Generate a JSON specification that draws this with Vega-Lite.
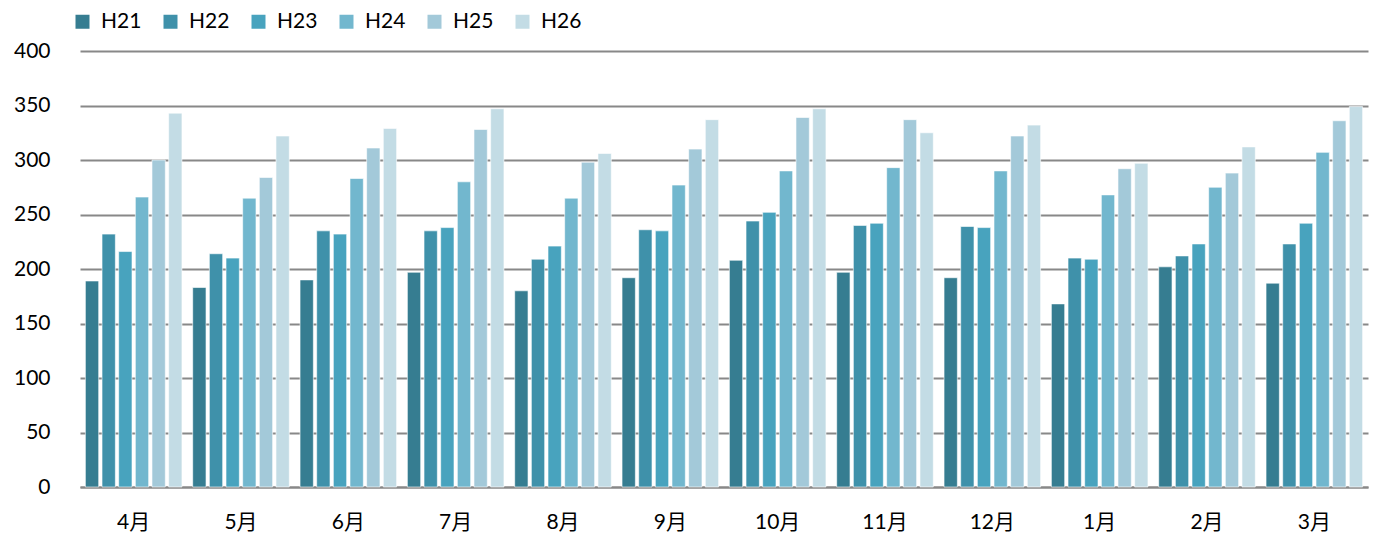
{
  "$schema": "https://vega.github.io/schema/vega-lite/v6.json",
  "width": 1288,
  "height": 436,
  "autosize": {"type": "none"},
  "padding": {"left": 80, "top": 51, "right": 10, "bottom": 48},
  "background": "white",
  "config": {
    "view": {"stroke": null},
    "font": "Lato"
  },
  "data": {
    "values": [
      {"month": "4月", "year": "H21", "v": 189}, {"month": "4月", "year": "H22", "v": 232}, {"month": "4月", "year": "H23", "v": 216}, {"month": "4月", "year": "H24", "v": 266}, {"month": "4月", "year": "H25", "v": 300}, {"month": "4月", "year": "H26", "v": 343},
      {"month": "5月", "year": "H21", "v": 183}, {"month": "5月", "year": "H22", "v": 214}, {"month": "5月", "year": "H23", "v": 210}, {"month": "5月", "year": "H24", "v": 265}, {"month": "5月", "year": "H25", "v": 284}, {"month": "5月", "year": "H26", "v": 322},
      {"month": "6月", "year": "H21", "v": 190}, {"month": "6月", "year": "H22", "v": 235}, {"month": "6月", "year": "H23", "v": 232}, {"month": "6月", "year": "H24", "v": 283}, {"month": "6月", "year": "H25", "v": 311}, {"month": "6月", "year": "H26", "v": 329},
      {"month": "7月", "year": "H21", "v": 197}, {"month": "7月", "year": "H22", "v": 235}, {"month": "7月", "year": "H23", "v": 238}, {"month": "7月", "year": "H24", "v": 280}, {"month": "7月", "year": "H25", "v": 328}, {"month": "7月", "year": "H26", "v": 347},
      {"month": "8月", "year": "H21", "v": 180}, {"month": "8月", "year": "H22", "v": 209}, {"month": "8月", "year": "H23", "v": 221}, {"month": "8月", "year": "H24", "v": 265}, {"month": "8月", "year": "H25", "v": 298}, {"month": "8月", "year": "H26", "v": 306},
      {"month": "9月", "year": "H21", "v": 192}, {"month": "9月", "year": "H22", "v": 236}, {"month": "9月", "year": "H23", "v": 235}, {"month": "9月", "year": "H24", "v": 277}, {"month": "9月", "year": "H25", "v": 310}, {"month": "9月", "year": "H26", "v": 337},
      {"month": "10月", "year": "H21", "v": 208}, {"month": "10月", "year": "H22", "v": 244}, {"month": "10月", "year": "H23", "v": 252}, {"month": "10月", "year": "H24", "v": 290}, {"month": "10月", "year": "H25", "v": 339}, {"month": "10月", "year": "H26", "v": 347},
      {"month": "11月", "year": "H21", "v": 197}, {"month": "11月", "year": "H22", "v": 240}, {"month": "11月", "year": "H23", "v": 242}, {"month": "11月", "year": "H24", "v": 293}, {"month": "11月", "year": "H25", "v": 337}, {"month": "11月", "year": "H26", "v": 325},
      {"month": "12月", "year": "H21", "v": 192}, {"month": "12月", "year": "H22", "v": 239}, {"month": "12月", "year": "H23", "v": 238}, {"month": "12月", "year": "H24", "v": 290}, {"month": "12月", "year": "H25", "v": 322}, {"month": "12月", "year": "H26", "v": 332},
      {"month": "1月", "year": "H21", "v": 168}, {"month": "1月", "year": "H22", "v": 210}, {"month": "1月", "year": "H23", "v": 209}, {"month": "1月", "year": "H24", "v": 268}, {"month": "1月", "year": "H25", "v": 292}, {"month": "1月", "year": "H26", "v": 297},
      {"month": "2月", "year": "H21", "v": 202}, {"month": "2月", "year": "H22", "v": 212}, {"month": "2月", "year": "H23", "v": 223}, {"month": "2月", "year": "H24", "v": 275}, {"month": "2月", "year": "H25", "v": 288}, {"month": "2月", "year": "H26", "v": 312},
      {"month": "3月", "year": "H21", "v": 187}, {"month": "3月", "year": "H22", "v": 223}, {"month": "3月", "year": "H23", "v": 242}, {"month": "3月", "year": "H24", "v": 307}, {"month": "3月", "year": "H25", "v": 336}, {"month": "3月", "year": "H26", "v": 349}
    ]
  },
  "mark": {"type": "bar", "stroke": "white", "strokeWidth": 1, "strokeOpacity": 0.6},
  "encoding": {
    "x": {
      "field": "month", "type": "nominal", "sort": null,
      "scale": {"paddingInner": 0.1, "paddingOuter": 0.05},
      "axis": {
        "title": null, "labelAngle": 0, "ticks": false, "domain": true,
        "domainColor": "#888888", "domainWidth": 2,
        "labelFont": "Lato, 'Noto Sans CJK JP'", "labelFontSize": 21, "labelColor": "#000000",
        "labelPadding": 24
      }
    },
    "xOffset": {"field": "year", "type": "nominal", "scale": {"paddingInner": 0.2, "paddingOuter": 0}},
    "y": {
      "field": "v", "type": "quantitative",
      "scale": {"domain": [0, 400], "nice": false},
      "axis": {
        "title": null, "values": [0, 50, 100, 150, 200, 250, 300, 350, 400],
        "domain": false, "ticks": false, "grid": true, "gridColor": "#888888", "gridWidth": 2,
        "labelFontSize": 21, "labelColor": "#000000", "labelPadding": 30, "labelFont": "Lato"
      }
    },
    "color": {
      "field": "year", "type": "nominal",
      "scale": {
        "domain": ["H21", "H22", "H23", "H24", "H25", "H26"],
        "range": ["#367D91", "#3F91AA", "#48A3BE", "#72B7CE", "#A3C9D9", "#C3DCE5"]
      },
      "legend": {
        "title": null, "orient": "none", "direction": "horizontal",
        "legendX": -8, "legendY": -40,
        "symbolType": "square", "symbolSize": 196, "symbolStrokeWidth": 0,
        "labelFontSize": 21, "labelColor": "#000000", "labelFont": "Lato",
        "columnPadding": 18, "labelOffset": 8
      }
    }
  }
}
